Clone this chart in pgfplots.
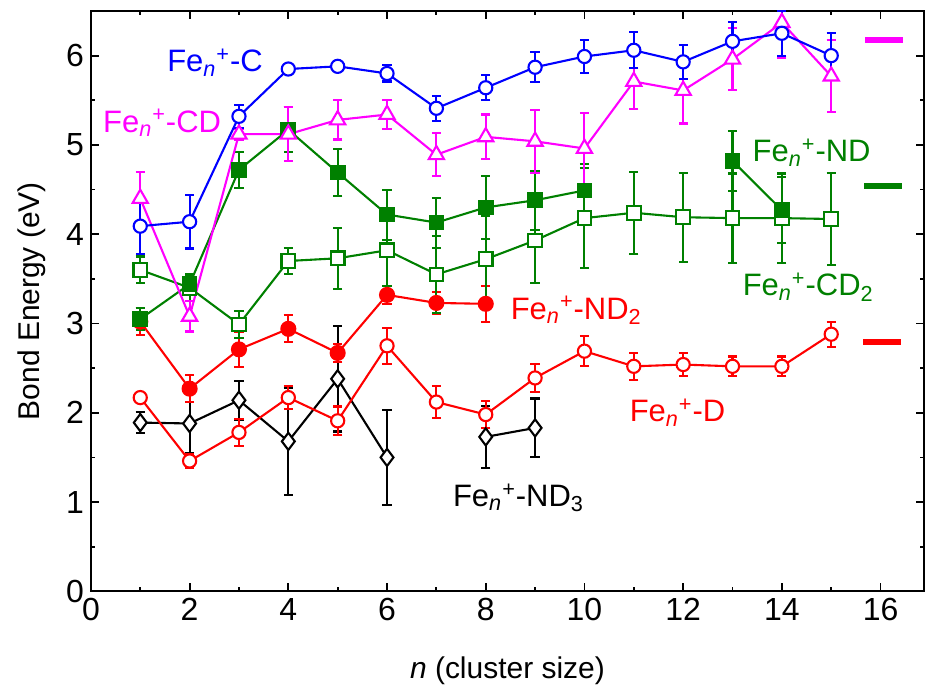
\documentclass[border=0pt]{standalone}
\usepackage{pgfplots}
\pgfplotsset{compat=1.18}
\usepackage{pgfplotstable}
\usepackage{fontspec}
\setmainfont{Liberation Sans}
\setsansfont{Liberation Sans}
\definecolor{cblue}{RGB}{0,0,255}
\definecolor{cmag}{RGB}{255,0,255}
\definecolor{cgreen}{RGB}{0,128,0}
\definecolor{cred}{RGB}{255,0,0}

\pgfplotstableread{
n y e
1 4.09 0.31
2 4.14 0.30
3 5.32 0.13
4 5.85 0.05
5 5.88 0.05
6 5.80 0.09
7 5.41 0.14
8 5.64 0.14
9 5.87 0.17
10 5.99 0.18
11 6.06 0.20
12 5.93 0.19
13 6.16 0.22
14 6.25 0.25
15 6.00 0.25
}\tabC
\pgfplotstableread{
n y e
1 4.40 0.30
2 3.08 0.17
3 5.12 0.06
4 5.12 0.30
5 5.28 0.22
6 5.34 0.16
7 4.89 0.24
8 5.09 0.25
9 5.04 0.35
10 4.96 0.40
11 5.71 0.31
12 5.61 0.37
13 5.96 0.35
14 6.37 0.40
15 5.77 0.40
}\tabCD
\pgfplotstableread{
n y e
1 3.05 0.12
2 3.44 0.10
3 4.72 0.20
4 5.17 0.25
5 4.69 0.26
6 4.22 0.28
7 4.13 0.28
8 4.30 0.35
9 4.38 0.33
10 4.49 0.30
11 nan nan
13 4.82 0.34
14 4.27 0.37
}\tabND
\pgfplotstableread{
n y e
1 3.60 0.15
2 3.40 0.15
3 2.99 0.15
4 3.70 0.15
5 3.73 0.34
6 3.82 0.40
7 3.55 0.43
8 3.72 0.48
9 3.93 0.48
10 4.18 0.56
11 4.24 0.46
12 4.19 0.50
13 4.18 0.50
14 4.18 0.50
15 4.17 0.52
}\tabCDtwo
\pgfplotstableread{
n y e
1 3.02 0.15
2 2.27 0.15
3 2.71 0.20
4 2.94 0.15
5 2.67 0.10
6 3.32 0.10
7 3.23 0.12
8 3.22 0.20
}\tabNDtwo
\pgfplotstableread{
n y e
1 2.17 0.03
2 1.46 0.08
3 1.78 0.15
4 2.17 0.13
5 1.91 0.16
6 2.75 0.20
7 2.12 0.18
8 1.98 0.15
9 2.39 0.16
10 2.69 0.17
11 2.52 0.15
12 2.54 0.13
13 2.52 0.11
14 2.52 0.11
15 2.88 0.14
}\tabD
\pgfplotstableread{
n y e
1 1.89 0.12
2 1.88 0.33
3 2.14 0.22
4 1.68 0.60
5 2.38 0.59
6 1.50 0.53
7 nan nan
8 1.73 0.35
9 1.83 0.33
}\tabNDthree

\begin{document}
\begin{tikzpicture}
\begin{axis}[
  width=417pt, height=290.5pt, scale only axis,
  xmin=0, xmax=16.88, ymin=0, ymax=6.5,
  xtick={0,2,...,16}, minor xtick={1,3,...,15},
  ytick={0,1,...,6}, minor ytick={0.5,1.5,...,6.5},
  tick align=inside,
  major tick length=4pt, minor tick length=2.2pt,
  axis line style={line width=1pt},
  every tick/.style={black, line width=0.9pt},
  font=\fontsize{15}{18}\selectfont,
  tick label style={font=\fontsize{16}{19}\selectfont},
  /pgf/number format/assume math mode=true,
  xlabel={\textit{n} (cluster size)},
  ylabel={Bond Energy (eV)},
  xlabel style={yshift=-11pt},
  ylabel style={yshift=3.5pt},
  unbounded coords=jump,
  every axis plot/.append style={line width=1.05pt},
  error bars/y dir=both, error bars/y explicit,
  error bars/error bar style={line width=1.05pt},
  error bars/error mark options={rotate=90, mark size=2.3pt, line width=1.05pt},
]
% ND3 black diamonds
\addplot[black, mark=diamond*, mark size=4.3pt, mark options={fill=white, solid}]
  table[x=n, y=y, y error=e] {\tabNDthree};
% D red open circles
\addplot[cred, mark=*, mark size=3.3pt, mark options={fill=white, solid}]
  table[x=n, y=y, y error=e] {\tabD};
% ND2 red filled circles
\addplot[cred, mark=*, mark size=3.5pt, mark options={fill=cred, solid}]
  table[x=n, y=y, y error=e] {\tabNDtwo};
% CD2 green open squares
\addplot[cgreen, mark=square*, mark size=3.4pt, mark options={fill=white, solid}]
  table[x=n, y=y, y error=e] {\tabCDtwo};
% ND green filled squares
\addplot[cgreen, mark=square*, mark size=3.4pt, mark options={fill=cgreen, solid}]
  table[x=n, y=y, y error=e] {\tabND};
% CD magenta triangles
\addplot[cmag, mark=triangle*, mark size=4.4pt, mark options={fill=white, solid}]
  table[x=n, y=y, y error=e] {\tabCD};
% C blue open circles
\addplot[cblue, mark=*, mark size=3.3pt, mark options={fill=white, solid}]
  table[x=n, y=y, y error=e] {\tabC};
% reference bars at right
\addplot[cmag, line width=3pt, mark=none, forget plot, error bars/y dir=none] coordinates {(15.69,6.18) (16.46,6.18)};
\addplot[cgreen, line width=3pt, mark=none, forget plot, error bars/y dir=none] coordinates {(15.67,4.535) (16.44,4.535)};
\addplot[cred, line width=3pt, mark=none, forget plot, error bars/y dir=none] coordinates {(15.65,2.79) (16.42,2.79)};
% labels
\node[cblue, anchor=base west, inner sep=0pt, font=\fontsize{15.5}{18}\selectfont] at (axis cs:1.54,5.82) {Fe\textsubscript{\textit{n}}\textsuperscript{+}-C};
\node[cmag, anchor=base west, inner sep=0pt, font=\fontsize{15.5}{18}\selectfont] at (axis cs:0.24,5.14) {Fe\textsubscript{\textit{n}}\textsuperscript{+}-CD};
\node[cgreen, anchor=base west, inner sep=0pt, font=\fontsize{15.5}{18}\selectfont] at (axis cs:13.40,4.81) {Fe\textsubscript{\textit{n}}\textsuperscript{+}-ND};
\node[cgreen, anchor=base west, inner sep=0pt, font=\fontsize{15.5}{18}\selectfont] at (axis cs:13.20,3.31) {Fe\textsubscript{\textit{n}}\textsuperscript{+}-CD\textsubscript{2}};
\node[cred, anchor=base west, inner sep=0pt, font=\fontsize{15.5}{18}\selectfont] at (axis cs:8.50,3.05) {Fe\textsubscript{\textit{n}}\textsuperscript{+}-ND\textsubscript{2}};
\node[cred, anchor=base west, inner sep=0pt, font=\fontsize{15.5}{18}\selectfont] at (axis cs:10.91,1.90) {Fe\textsubscript{\textit{n}}\textsuperscript{+}-D};
\node[black, anchor=base west, inner sep=0pt, font=\fontsize{15.5}{18}\selectfont] at (axis cs:7.33,0.95) {Fe\textsubscript{\textit{n}}\textsuperscript{+}-ND\textsubscript{3}};
\end{axis}
\path (current axis.north west) ++(0,5.5pt);
\path (current axis.south west) ++(-45.5pt,-52pt);
\end{tikzpicture}
\end{document}
